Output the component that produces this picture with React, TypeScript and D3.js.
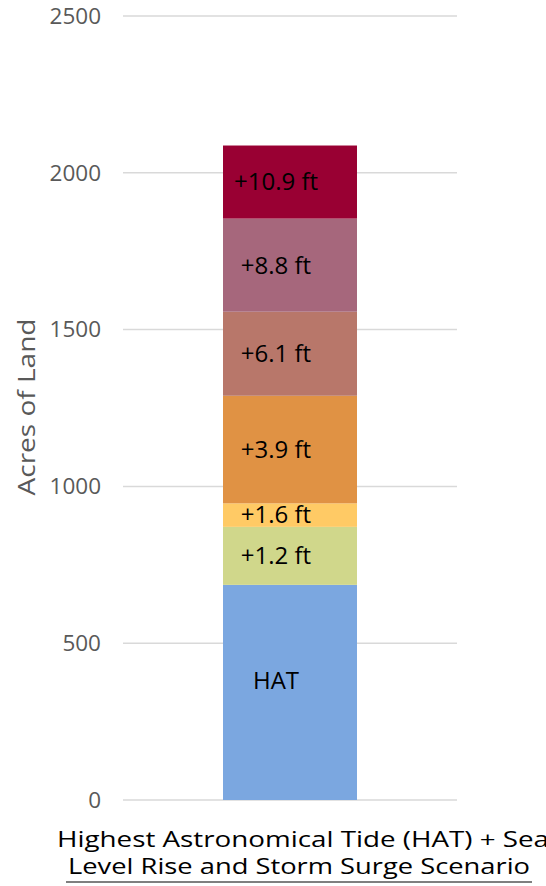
import * as d3 from "d3";

// stacked segments, bottom to top (acres of land)
const scenarios = ["HAT", "+1.2 ft", "+1.6 ft", "+3.9 ft", "+6.1 ft", "+8.8 ft", "+10.9 ft"];
const acres = [686, 185, 75, 343, 268, 297, 233];
const colors = ["#7BA7E0", "#D0D78B", "#FFCA65", "#E09244", "#B8776A", "#A6677C", "#990033"];
const yTicks = [0, 500, 1000, 1500, 2000, 2500];
const category = "Highest Astronomical Tide (HAT) + Sea Level Rise and Storm Surge Scenario";

const W = 546;
const H = 886;
const FONT = "'Open Sans', 'DejaVu Sans', sans-serif";

export default function App() {
  const y = d3.scaleLinear().domain([0, 2500]).range([800, 16]);
  const x = d3.scaleBand<string>()
    .domain([category])
    .range([123, 457])
    .paddingInner(0.4274)
    .paddingOuter(0.4274);

  const stack = d3.stack<number[]>()
    .keys(scenarios.map((_, i) => String(i)))
    .value((d, key) => d[+key]);
  const series = stack([acres]);

  const bx = x(category) ?? 0;
  const bw = x.bandwidth();
  const labelX = bx + bw / 2 - 14;

  return (
    <svg
      width={W}
      height={H}
      style={{ position: "absolute", left: 0, top: 0, background: "#fff" }}
      fontFamily={FONT}
    >
      {/* gridlines + tick labels */}
      {yTicks.map(t => (
        <g key={t}>
          <line x1={123} x2={457} y1={y(t)} y2={y(t)} stroke="#D9D9D9" strokeWidth={1.5} />
          <text x={101} y={y(t)} dy="0.35em" textAnchor="end" fontSize={22.5} fill="#595959">
            {t}
          </text>
        </g>
      ))}

      {/* stacked bar */}
      {series.map((s, i) => {
        const [y0, y1] = s[0];
        return (
          <g key={scenarios[i]}>
            <rect x={bx} width={bw} y={y(y1)} height={y(y0) - y(y1)} fill={colors[i]} />
            <text
              x={labelX}
              y={(y(y0) + y(y1)) / 2 - (i === 0 ? 12 : 0)}
              dy="0.35em"
              textAnchor="middle"
              fontSize={24}
              fill="#000"
            >
              {scenarios[i]}
            </text>
          </g>
        );
      })}

      {/* y axis title */}
      <text
        transform={`translate(35, ${407}) rotate(-90)`}
        textAnchor="middle"
        fontSize={24}
        fill="#595959"
        textLength={177}
        lengthAdjust="spacingAndGlyphs"
      >
        Acres of Land
      </text>

      {/* x axis category label */}
      <text x={57} y={847} fontSize={22.5} fill="#000" textLength={492} lengthAdjust="spacingAndGlyphs">
        Highest Astronomical Tide (HAT) + Sea
      </text>
      <text x={68} y={874} fontSize={22.5} fill="#000" textLength={462} lengthAdjust="spacingAndGlyphs">
        Level Rise and Storm Surge Scenario
      </text>
      <line x1={66} x2={532} y1={882} y2={882} stroke="#000" strokeWidth={1.2} />
    </svg>
  );
}
